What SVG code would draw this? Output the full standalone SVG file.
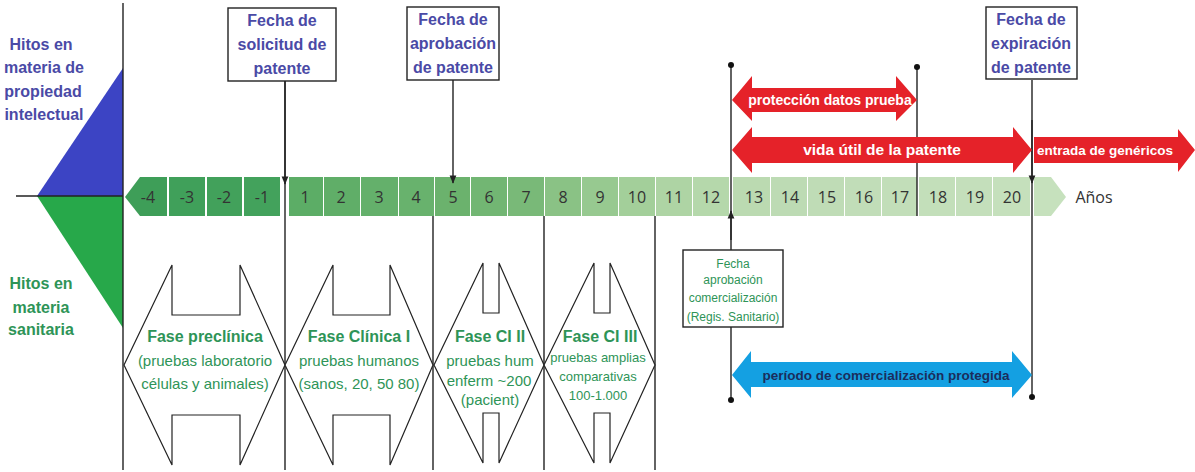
<svg xmlns="http://www.w3.org/2000/svg" width="1195" height="472" viewBox="0 0 1195 472">
<style>
  .ln{stroke:#222;stroke-width:1.4;fill:none}
  .box{fill:#fff;stroke:#222;stroke-width:1.4}
  .blue{font-family:"Liberation Sans Narrow","Liberation Sans",Arial,sans-serif;font-weight:bold;fill:#4a4aa6;font-size:16px;text-anchor:middle}
  .grn{font-family:"Liberation Sans Narrow","Liberation Sans",Arial,sans-serif;fill:#2e9457;text-anchor:middle}
  .num{font-family:"Open Sans","Liberation Sans",sans-serif;font-size:16px;fill:#333;text-anchor:middle}
  .wht{font-family:"Liberation Sans Narrow","Liberation Sans",Arial,sans-serif;font-weight:bold;fill:#fff;text-anchor:middle}
  .phase{fill:#fff;stroke:#222;stroke-width:1.2}
  .dot{fill:#111}
</style>
<defs>
  <marker id="ah" viewBox="0 0 10 10" refX="9" refY="5" markerWidth="6" markerHeight="6" orient="auto">
    <path d="M0,1 L10,5 L0,9 z" fill="#222"/>
  </marker>
</defs>
<rect width="1195" height="472" fill="#fff"/>

<!-- side triangles and axis stub -->
<g id="side">
  <polygon points="37,196 123,68 123,196" fill="#3c44c4"/>
  <polygon points="37,196 123,196 123,328" fill="#27a84a"/>
  <line class="ln" x1="16" y1="196" x2="123" y2="196"/>
  <line class="ln" x1="123" y1="3" x2="123" y2="470"/>
  <text class="blue" x="41" y="50">Hitos en</text>
  <text class="blue" x="44" y="73">materia de</text>
  <text class="blue" x="43" y="97">propiedad</text>
  <text class="blue" x="44" y="120">intelectual</text>
  <text class="grn" font-weight="bold" font-size="16" x="41" y="289">Hitos en</text>
  <text class="grn" font-weight="bold" font-size="16" x="41" y="313">materia</text>
  <text class="grn" font-weight="bold" font-size="16" x="41" y="335">sanitaria</text>
</g>

<!-- year timeline -->
<g id="timeline">
  <polygon points="125,197 140,177 167,177 167,216 140,216" fill="#3e9e58"/>
  <rect x="169" y="177" width="36" height="39" fill="#40a05a"/>
  <rect x="207" y="177" width="35" height="39" fill="#42a15b"/>
  <rect x="244" y="177" width="36" height="39" fill="#43a25c"/>
  <rect x="289" y="177" width="34" height="39" fill="#5cad66"/>
  <rect x="324" y="177" width="36" height="39" fill="#60ae68"/>
  <rect x="361" y="177" width="37" height="39" fill="#64b06b"/>
  <rect x="399" y="177" width="35" height="39" fill="#68b26d"/>
  <rect x="435" y="177" width="35" height="39" fill="#6bb26d"/>
  <rect x="471" y="177" width="36" height="39" fill="#72b673"/>
  <rect x="508" y="177" width="36" height="39" fill="#79b978"/>
  <rect x="545" y="177" width="36" height="39" fill="#8ac285"/>
  <rect x="582" y="177" width="36" height="39" fill="#97c990"/>
  <rect x="619" y="177" width="36" height="39" fill="#a3cf9a"/>
  <rect x="656" y="177" width="36" height="39" fill="#aed4a4"/>
  <rect x="693" y="177" width="36" height="39" fill="#b5d8ab"/>
  <rect x="733" y="177" width="37" height="39" fill="#bbdab1"/>
  <rect x="771" y="177" width="36" height="39" fill="#bddbb4"/>
  <rect x="808" y="177" width="36" height="39" fill="#bfdcb6"/>
  <rect x="845" y="177" width="36" height="39" fill="#c1ddb8"/>
  <rect x="882" y="177" width="35" height="39" fill="#c2deb9"/>
  <rect x="919" y="177" width="36" height="39" fill="#c3dfba"/>
  <rect x="956" y="177" width="36" height="39" fill="#c4dfbb"/>
  <rect x="993" y="177" width="37" height="39" fill="#c5e0bc"/>
  <polygon points="1034,177 1051,177 1066,197 1051,216 1034,216" fill="#c6e1bd"/>
  <text class="num" x="148" y="203">-4</text>
  <text class="num" x="187" y="203">-3</text>
  <text class="num" x="224" y="203">-2</text>
  <text class="num" x="262" y="203">-1</text>
  <text class="num" x="305" y="203">1</text>
  <text class="num" x="341" y="203">2</text>
  <text class="num" x="379" y="203">3</text>
  <text class="num" x="416" y="203">4</text>
  <text class="num" x="453" y="203">5</text>
  <text class="num" x="489" y="203">6</text>
  <text class="num" x="526" y="203">7</text>
  <text class="num" x="563" y="203">8</text>
  <text class="num" x="600" y="203">9</text>
  <text class="num" x="637" y="203">10</text>
  <text class="num" x="674" y="203">11</text>
  <text class="num" x="711" y="203">12</text>
  <text class="num" x="754" y="203">13</text>
  <text class="num" x="790" y="203">14</text>
  <text class="num" x="827" y="203">15</text>
  <text class="num" x="864" y="203">16</text>
  <text class="num" x="900" y="203">17</text>
  <text class="num" x="938" y="203">18</text>
  <text class="num" x="975" y="203">19</text>
  <text class="num" x="1012" y="203">20</text>
  <text class="num" x="1094" y="203" font-size="17">Años</text>
</g>

<!-- connectors -->
<g id="connectors">
  <line class="ln" x1="285" y1="81" x2="285" y2="470"/>
  <line class="ln" x1="285" y1="81" x2="285" y2="184" marker-end="url(#ah)"/>
  <line class="ln" x1="453" y1="80" x2="453" y2="183" marker-end="url(#ah)"/>
  <line class="ln" x1="433" y1="216" x2="433" y2="470"/>
  <line class="ln" x1="544" y1="216" x2="544" y2="470"/>
  <line class="ln" x1="655" y1="216" x2="655" y2="470"/>
  <line class="ln" x1="731" y1="65" x2="731" y2="400"/>
  <line class="ln" x1="731" y1="240" x2="731" y2="211" marker-end="url(#ah)"/>
  <line class="ln" x1="917" y1="67" x2="917" y2="216"/>
  <line class="ln" x1="1032" y1="80" x2="1032" y2="397"/>
  <line class="ln" x1="1032" y1="120" x2="1032" y2="183" marker-end="url(#ah)"/>
  <circle class="dot" cx="731" cy="65" r="3"/>
  <circle class="dot" cx="917" cy="67" r="3"/>
  <circle class="dot" cx="731" cy="400" r="3"/>
  <circle class="dot" cx="1032" cy="397" r="3"/>
</g>

<!-- patent milestones -->
<g id="solicitud">
  <rect class="box" x="228" y="8" width="108" height="73"/>
  <text class="blue" x="282" y="26">Fecha de</text>
  <text class="blue" x="282" y="50">solicitud de</text>
  <text class="blue" x="282" y="74">patente</text>
</g>
<g id="aprobacion">
  <rect class="box" x="407" y="7" width="92" height="73"/>
  <text class="blue" x="453" y="25">Fecha de</text>
  <text class="blue" x="453" y="49">aprobación</text>
  <text class="blue" x="453" y="73">de patente</text>
</g>
<g id="expiracion">
  <rect class="box" x="986" y="7" width="91" height="72"/>
  <text class="blue" x="1031" y="25">Fecha de</text>
  <text class="blue" x="1031" y="49">expiración</text>
  <text class="blue" x="1031" y="73">de patente</text>
</g>

<!-- red protection arrows -->
<g id="proteccion">
  <polygon points="732,100 752,76 752,88 896,88 896,76 917,100 896,121 896,112 752,112 752,121" fill="#e52229"/>
  <text class="wht" font-size="14" x="830" y="105">protección datos prueba</text>
</g>
<g id="vida">
  <polygon points="732,150 752,127 752,137 1013,137 1013,127 1032,150 1013,173 1013,163 752,163 752,173" fill="#e52229"/>
  <text class="wht" font-size="15.5" x="882" y="155">vida útil de la patente</text>
</g>
<g id="genericos">
  <polygon points="1034,137 1178,137 1178,129 1195,150 1178,172 1178,163 1034,163" fill="#e52229"/>
  <text class="wht" font-size="13.5" x="1105" y="155">entrada de genéricos</text>
</g>

<!-- sanitary approval and protected marketing period -->
<g id="registro">
  <rect class="box" x="683" y="250" width="100" height="77"/>
  <text class="grn" font-size="12" x="733" y="268">Fecha</text>
  <text class="grn" font-size="12" x="733" y="284">aprobación</text>
  <text class="grn" font-size="12" x="733" y="302">comercialización</text>
  <text class="grn" font-size="12" x="733" y="321">(Regis. Sanitario)</text>
</g>
<g id="comercializacion">
  <polygon points="732,375 751,351 751,362 1012,362 1012,351 1032,375 1012,398 1012,387 751,387 751,398" fill="#14a0e2"/>
  <text font-family="Liberation Sans Narrow,Liberation Sans,Arial,sans-serif" font-weight="bold" font-size="13.5" fill="#1b2d5c" text-anchor="middle" x="886" y="380">período de comercialización protegida</text>
</g>

<!-- clinical phases -->
<g id="preclinica">
  <polygon class="phase" points="124,365 172,265 172,315 240,315 240,265 285,365 240,465 240,415 172,415 172,465"/>
  <text class="grn" font-weight="bold" font-size="16" x="205" y="342">Fase preclínica</text>
  <text class="grn" font-size="15" x="205" y="366">(pruebas laboratorio</text>
  <text class="grn" font-size="15" x="205" y="389">células y animales)</text>
</g>
<g id="fase1">
  <polygon class="phase" points="285,365 333,265 333,315 390,315 390,265 433,365 390,465 390,415 333,415 333,465"/>
  <text class="grn" font-weight="bold" font-size="16" x="359" y="342">Fase Clínica I</text>
  <text class="grn" font-size="15" x="359" y="366">pruebas humanos</text>
  <text class="grn" font-size="15" x="359" y="389">(sanos, 20, 50 80)</text>
</g>
<g id="fase2">
  <polygon class="phase" points="434,365 483,263 483,313 499,313 499,263 544,365 499,463 499,413 483,413 483,463"/>
  <text class="grn" font-weight="bold" font-size="16" x="490" y="342">Fase CI II</text>
  <text class="grn" font-size="15" x="490" y="366">pruebas hum</text>
  <text class="grn" font-size="15" x="489" y="386">enferm ~200</text>
  <text class="grn" font-size="15" x="490" y="405">(pacient)</text>
</g>
<g id="fase3">
  <polygon class="phase" points="544,365 594,263 594,313 610,313 610,263 655,365 610,463 610,413 594,413 594,463"/>
  <text class="grn" font-weight="bold" font-size="16" x="600" y="342">Fase CI  III</text>
  <text class="grn" font-size="13" x="598" y="362">pruebas amplias</text>
  <text class="grn" font-size="13" x="598" y="381">comparativas</text>
  <text class="grn" font-size="13" x="598" y="400">100-1.000</text>
</g>
</svg>
